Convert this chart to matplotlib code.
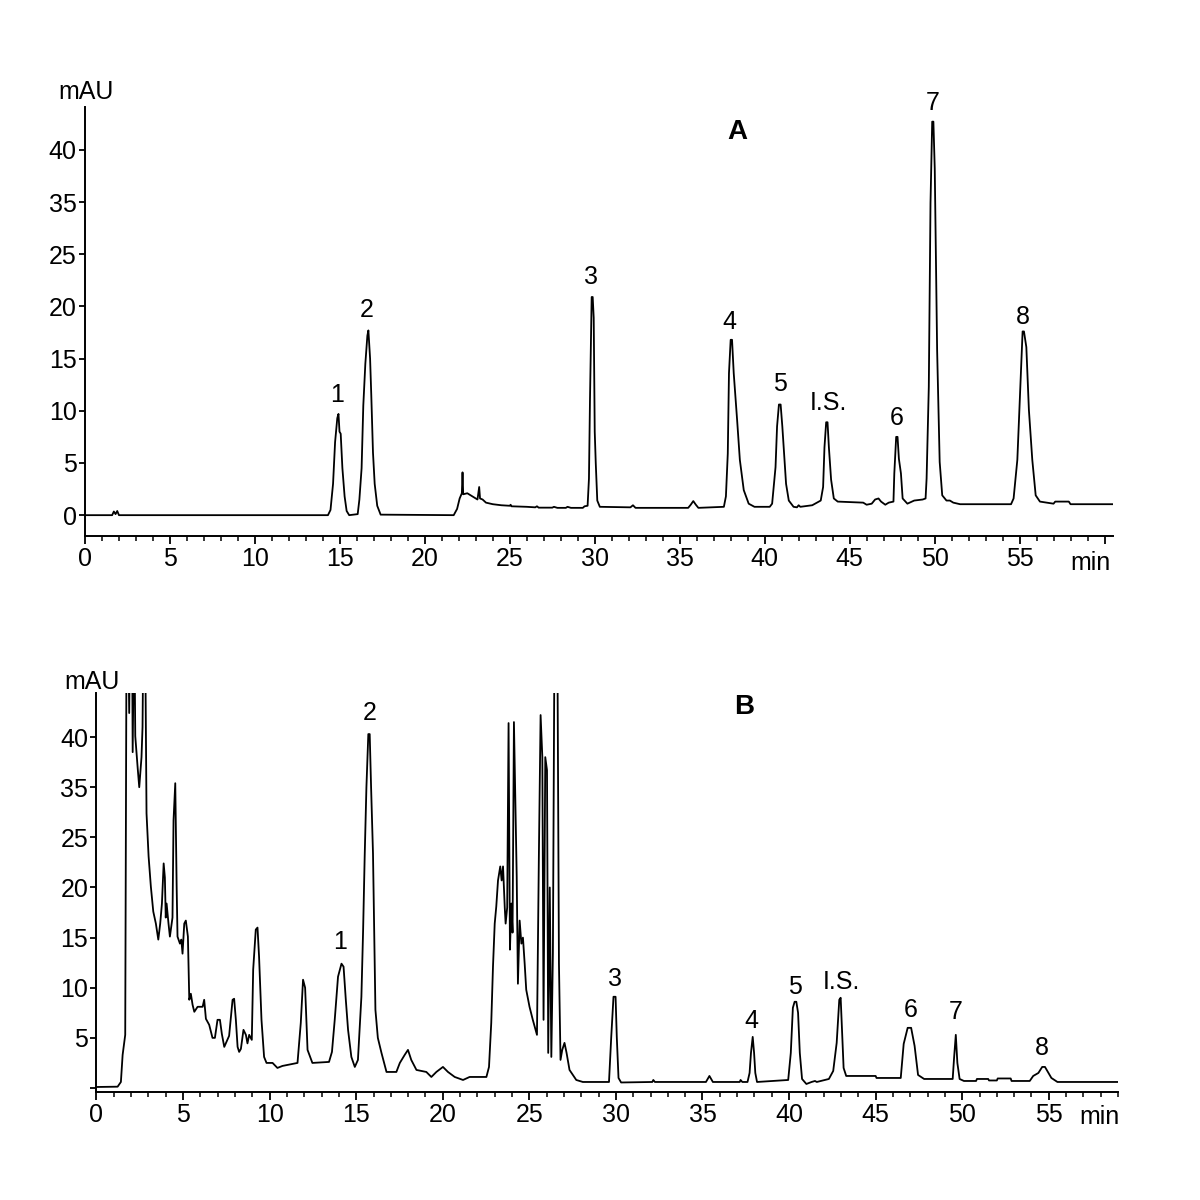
"""
Cromatogramas A y B (mAU frente a min), picos 1-8 e I.S.
Salida: out.png (1200x1200)
"""
import matplotlib
matplotlib.use("Agg")
import matplotlib.pyplot as plt
from matplotlib.ticker import MultipleLocator, FixedLocator, FixedFormatter

plt.rcParams["font.family"] = ["Liberation Sans", "DejaVu Sans"]

# ---- Cromatograma A (tiempo en min, señal en unidades del eje) ----
tiempo_a = [
    0.0, 1.6, 1.7, 1.8, 1.9, 2.0, 14.3, 14.45, 14.6, 14.72, 14.85, 14.92, 14.98, 15.05,
    15.15, 15.28, 15.4, 15.55, 16.05, 16.15, 16.28, 16.38, 16.5, 16.62, 16.68, 16.78,
    16.85, 16.95, 17.05, 17.2, 17.4, 21.7, 21.9, 22.05, 22.18, 22.22, 22.26, 22.5, 22.7,
    22.9, 23.1, 23.2, 23.25, 23.4, 23.6, 24.0, 24.5, 25.0, 25.05, 25.1, 26.0, 26.5, 26.6,
    26.7, 27.5, 27.6, 27.8, 28.3, 28.4, 28.6, 29.3, 29.4, 29.58, 29.66, 29.72, 29.82,
    29.88, 29.94, 30.0, 30.06, 30.15, 30.3, 32.1, 32.25, 32.4, 35.5, 35.65, 35.8, 35.95,
    36.1, 37.6, 37.72, 37.83, 37.9, 38.0, 38.08, 38.18, 38.38, 38.54, 38.77, 39.06, 39.4,
    40.3, 40.44, 40.64, 40.73, 40.84, 40.94, 41.04, 41.14, 41.26, 41.42, 41.7, 41.9, 42.0,
    42.1, 42.8, 43.3, 43.44, 43.52, 43.62, 43.7, 43.78, 43.91, 44.07, 44.3, 45.8, 46.0,
    46.3, 46.5, 46.7, 46.85, 47.1, 47.3, 47.58, 47.63, 47.74, 47.82, 47.9, 48.02, 48.12,
    48.4, 48.8, 49.3, 49.47, 49.53, 49.66, 49.76, 49.86, 49.93, 50.01, 50.15, 50.3, 50.45,
    50.7, 50.9, 51.1, 51.5, 54.5, 54.65, 54.87, 55.02, 55.18, 55.26, 55.4, 55.55, 55.75,
    55.95, 56.2, 57.0, 57.1, 57.9, 58.0, 60.5,
]
señal_a = [
    0.0, 0.0, 0.35, 0.1, 0.4, 0.0, 0.0, 0.5, 3.0, 7.0, 9.3, 9.7, 8.0, 7.8,
    4.5, 1.8, 0.4, 0.0, 0.1, 1.5, 4.5, 10.5, 14.5, 17.2, 17.7, 15.0,
    11.5, 6.0, 3.0, 0.9, 0.05, 0.0, 0.6, 1.6, 2.1, 4.1, 2.0, 2.1, 1.9,
    1.7, 1.5, 2.7, 1.6, 1.5, 1.2, 1.05, 0.95, 0.9, 1.0, 0.85, 0.8, 0.75, 0.85,
    0.72, 0.72, 0.8, 0.7, 0.7, 0.8, 0.7, 0.7, 0.85, 0.9, 3.5, 11.0, 20.9,
    20.9, 18.9, 8.0, 5.0, 1.4, 0.8, 0.75, 0.95, 0.7, 0.7, 1.0, 1.35, 1.0,
    0.7, 0.8, 1.8, 5.9, 13.6, 16.8, 16.8, 13.6, 9.1, 5.3, 2.4, 1.1, 0.8,
    0.8, 1.1, 4.6, 8.5, 10.6, 10.6, 8.5, 6.0, 3.0, 1.4, 0.8, 0.75, 0.95,
    0.8, 0.95, 1.4, 2.7, 6.5, 8.9, 8.9, 6.5, 3.4, 1.6, 1.3, 1.2, 1.0,
    1.1, 1.5, 1.6, 1.3, 1.0, 1.2, 1.3, 4.0, 7.5, 7.5, 5.4, 4.0, 1.6,
    1.1, 1.4, 1.5, 1.6, 3.5, 12.3, 29.9, 37.7, 37.7, 33.2, 15.8, 5.1, 1.9,
    1.4, 1.4, 1.2, 1.05, 1.05, 1.6, 5.3, 11.3, 17.6, 17.6, 16.1, 10.1, 5.3,
    1.9, 1.3, 1.1, 1.3, 1.3, 1.05, 1.05,
]

# ---- Cromatograma B ----
tiempo_b = [
    0.0, 1.22, 1.41, 1.51, 1.66, 1.74, 1.82, 1.89, 1.95, 2.05, 2.09, 2.18, 2.24, 2.38,
    2.47, 2.6, 2.66, 2.72, 2.8, 2.89, 3.01, 3.14, 3.28, 3.43, 3.57, 3.68, 3.78, 3.88,
    3.95, 4.0, 4.05, 4.16, 4.24, 4.39, 4.45, 4.55, 4.63, 4.68, 4.82, 4.9, 4.97, 5.07,
    5.16, 5.28, 5.36, 5.45, 5.55, 5.65, 5.84, 6.13, 6.22, 6.32, 6.51, 6.7, 6.84, 6.99,
    7.13, 7.24, 7.38, 7.51, 7.66, 7.86, 7.95, 8.05, 8.15, 8.24, 8.34, 8.49, 8.63, 8.72,
    8.82, 8.97, 9.05, 9.2, 9.3, 9.39, 9.53, 9.68, 9.82, 10.17, 10.45, 10.74, 11.61, 11.8,
    11.93, 12.05, 12.19, 12.47, 13.43, 13.6, 13.76, 13.95, 14.15, 14.27, 14.4, 14.53,
    14.72, 14.92, 15.1, 15.3, 15.4, 15.49, 15.59, 15.7, 15.78, 15.86, 15.97, 16.11,
    16.25, 16.46, 16.75, 17.32, 17.52, 17.8, 17.99, 18.18, 18.48, 19.05, 19.34, 19.63,
    20.01, 20.3, 20.69, 21.17, 21.55, 22.52, 22.67, 22.8, 22.9, 23.0, 23.09, 23.19,
    23.32, 23.4, 23.48, 23.58, 23.63, 23.72, 23.8, 23.88, 23.96, 24.03, 24.11, 24.19,
    24.27, 24.34, 24.44, 24.54, 24.63, 24.73, 24.82, 25.01, 25.2, 25.44, 25.55, 25.65,
    25.75, 25.82, 25.92, 26.02, 26.09, 26.18, 26.27, 26.36, 26.46, 26.61, 26.71, 26.8,
    26.9, 27.03, 27.15, 27.32, 27.71, 28.09, 29.6, 29.73, 29.86, 29.98, 30.05, 30.15,
    30.3, 32.1, 32.16, 32.25, 35.2, 35.4, 35.6, 37.15, 37.2, 37.3, 37.6, 37.72, 37.8,
    37.9, 37.98, 38.05, 38.15, 39.95, 40.1, 40.22, 40.32, 40.42, 40.52, 40.62, 40.75,
    41.0, 41.3, 41.5, 41.6, 42.3, 42.55, 42.75, 42.9, 42.98, 43.06, 43.15, 43.3, 45.0,
    45.05, 46.45, 46.62, 46.85, 47.05, 47.25, 47.45, 47.8, 49.45, 49.53, 49.63, 49.72,
    49.85, 50.1, 50.8, 50.85, 51.5, 51.55, 52.0, 52.05, 52.8, 52.85, 53.9, 54.1, 54.4,
    54.62, 54.78, 54.95, 55.15, 55.5, 59.0,
]
señal_b = [
    0.1, 0.13, 0.6, 3.3, 5.3, 48.0, 48.0, 37.4, 48.0, 48.0, 33.5, 48.0, 35.1, 31.9,
    30.0, 33.0, 36.0, 48.0, 48.0, 27.4, 23.1, 20.1, 17.6, 16.4, 14.8, 16.4, 18.4, 22.4,
    21.0, 17.0, 18.4, 16.4, 15.1, 17.0, 26.7, 30.4, 20.1, 15.1, 14.4, 14.8, 13.4, 16.4,
    16.7, 15.1, 8.8, 9.4, 8.3, 7.6, 8.1, 8.1, 8.8, 6.9, 6.3, 5.0, 5.0, 6.8,
    6.8, 5.4, 4.1, 4.6, 5.2, 8.8, 8.9, 6.8, 4.1, 3.6, 3.9, 5.8, 5.3, 4.45,
    5.3, 4.8, 11.8, 15.8, 16.0, 13.1, 6.8, 3.1, 2.5, 2.5, 2.0, 2.2, 2.5, 6.5,
    10.8, 10.0, 3.8, 2.5, 2.6, 3.6, 6.8, 11.1, 12.4, 12.1, 8.8, 5.8,
    3.1, 2.1, 2.8, 9.1, 15.8, 23.1, 30.0, 35.3, 35.3, 30.0, 23.4, 7.8,
    5.0, 3.5, 1.6, 1.6, 2.5, 3.3, 3.8, 2.8, 1.8, 1.6, 1.1, 1.6,
    2.1, 1.6, 1.1, 0.8, 1.1, 1.1, 2.1, 6.5, 12.1, 16.4, 18.1, 20.7,
    22.1, 20.7, 22.1, 18.0, 16.4, 18.0, 36.4, 13.8, 18.4, 15.5, 36.5, 29.0,
    21.1, 10.4, 16.7, 14.4, 15.0, 12.4, 9.8, 8.1, 6.8, 5.3, 23.1, 37.2,
    33.0, 6.8, 33.0, 31.7, 3.5, 20.0, 3.1, 13.4, 48.0, 48.0, 12.4, 2.8,
    3.8, 4.5, 3.5, 1.8, 0.8, 0.6, 0.6, 5.1, 9.1, 9.1, 5.1, 1.0,
    0.55, 0.6, 0.8, 0.6, 0.6, 1.2, 0.6, 0.6, 0.8, 0.6, 0.6, 1.5, 3.5,
    5.1, 3.5, 1.5, 0.6, 0.8, 3.5, 8.0, 8.6, 8.6, 7.5, 3.5, 0.9,
    0.4, 0.6, 0.7, 0.6, 0.9, 1.7, 4.5, 8.8, 9.0, 5.8, 2.0, 1.2, 1.2,
    1.0, 1.0, 4.4, 6.0, 6.0, 4.2, 1.3, 0.9, 0.9, 3.0, 5.3, 2.5,
    0.9, 0.7, 0.7, 0.9, 0.9, 0.75, 0.75, 0.95, 0.95, 0.7, 0.7, 1.2, 1.5,
    2.1, 2.1, 1.6, 1.0, 0.6, 0.6,
]

# Etiquetas de picos (texto, tiempo, altura del centro del texto)
picos_txt = ["1", "2", "3", "4", "5", "I.S.", "6", "7", "8"]
picos_a_t = [14.82, 16.59, 29.78, 37.94, 40.93, 43.78, 47.76, 49.86, 55.2]
picos_a_y = [11.5, 19.7, 22.8, 18.5, 12.6, 10.7, 9.3, 39.5, 19.0]
picos_b_t = [14.09, 15.78, 29.92, 37.8, 40.36, 43.0, 47.0, 49.64, 54.58]
picos_b_y = [14.6, 37.4, 10.9, 6.7, 10.1, 10.6, 7.8, 7.6, 4.0]

# Eje Y del original: falta el "30", las marcas van de 5 en 5 pero rotuladas así
ytick_pos = [0, 5, 10, 15, 20, 25, 30, 35]
ytick_lbl_a = ["0", "5", "10", "15", "20", "25", "35", "40"]
ytick_lbl_b = ["", "5", "10", "15", "20", "25", "35", "40"]
xtick_pos_a = list(range(0, 61, 5))
xtick_lbl_a = [str(v) for v in range(0, 56, 5)] + [""]
xtick_pos_b = list(range(0, 56, 5))
xtick_lbl_b = [str(v) for v in range(0, 56, 5)]

FS = 18


def estilo_eje(ax, xlim, ylim, xpos, xlbl, ylbl):
    ax.set_xlim(*xlim)
    ax.set_ylim(*ylim)
    for s in ("top", "right"):
        ax.spines[s].set_visible(False)
    for s in ("left", "bottom"):
        ax.spines[s].set_linewidth(1.4)
    ax.xaxis.set_major_locator(FixedLocator(xpos))
    ax.xaxis.set_major_formatter(FixedFormatter(xlbl))
    ax.xaxis.set_minor_locator(MultipleLocator(1))
    ax.yaxis.set_major_locator(FixedLocator(ytick_pos))
    ax.yaxis.set_major_formatter(FixedFormatter(ylbl))
    ax.tick_params(axis="x", which="major", direction="out", length=6, width=1.3,
                   pad=2, labelsize=FS)
    ax.tick_params(axis="x", which="minor", direction="out", length=3.5, width=1.1)
    ax.tick_params(axis="y", which="major", direction="out", length=4, width=1.3,
                   pad=2, labelsize=FS)


fig = plt.figure(figsize=(12, 12), dpi=100)

# Panel A
ax1 = fig.add_axes([0.0708, 0.5533, 0.8567, 0.3575])
ax1.plot(tiempo_a, señal_a, color="black", linewidth=1.3)
estilo_eje(ax1, (0, 60.5), (-2.0, 39.1), xtick_pos_a, xtick_lbl_a, ytick_lbl_a)
for txt, t, y in zip(picos_txt, picos_a_t, picos_a_y):
    ax1.text(t, y, txt, ha="center", va="center", fontsize=FS, clip_on=False)
ax1.text(38.4, 36.7, "A", ha="center", va="center", fontsize=20, fontweight="bold")
ax1.text(0.06, 40.5, "mAU", ha="center", va="center", fontsize=FS, clip_on=False)
ax1.text(59.2, -4.6, "min", ha="center", va="center", fontsize=FS, clip_on=False)

# Panel B
ax2 = fig.add_axes([0.0804, 0.09, 0.8513, 0.3325])
ax2.plot(tiempo_b, señal_b, color="black", linewidth=1.3)
estilo_eje(ax2, (0, 59.0), (-0.4, 39.4), xtick_pos_b, xtick_lbl_b, ytick_lbl_b)
for txt, t, y in zip(picos_txt, picos_b_t, picos_b_y):
    ax2.text(t, y, txt, ha="center", va="center", fontsize=FS, clip_on=False)
ax2.text(37.4, 38.0, "B", ha="center", va="center", fontsize=20, fontweight="bold")
ax2.text(-0.23, 40.5, "mAU", ha="center", va="center", fontsize=FS, clip_on=False)
ax2.text(57.9, -2.9, "min", ha="center", va="center", fontsize=FS, clip_on=False)

fig.savefig("out.png", dpi=100)
plt.close(fig)
